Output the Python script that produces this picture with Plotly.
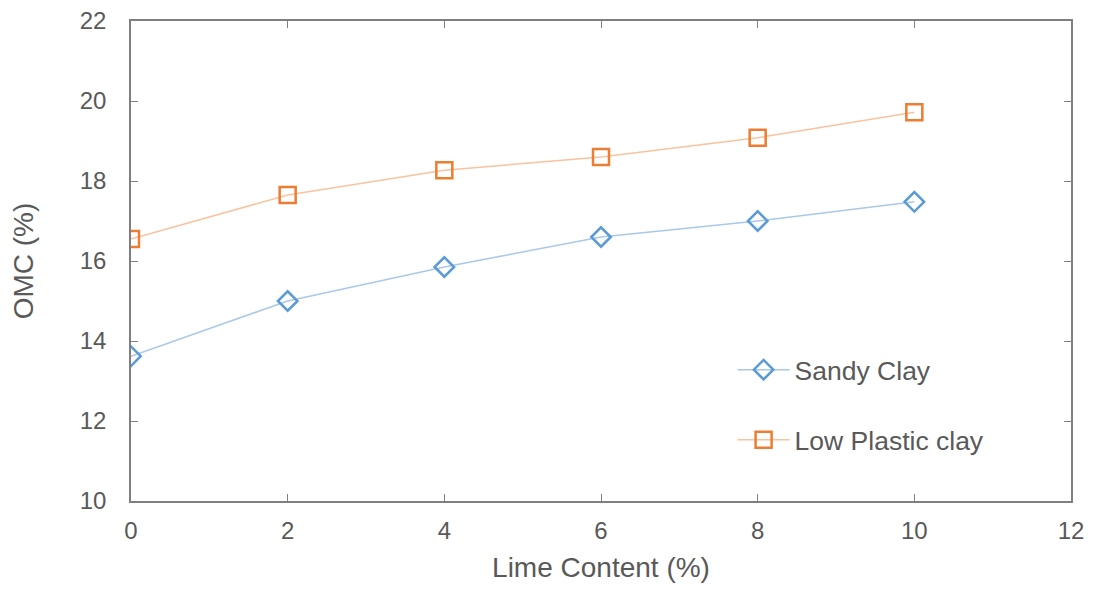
import plotly.graph_objects as go

lime_content = [0, 2, 4, 6, 8, 10]
omc_sandy_clay = [13.62, 15.0, 15.85, 16.6, 17.0, 17.48]
omc_low_plastic = [16.55, 17.65, 18.27, 18.6, 19.08, 19.72]

x_ticks = [0, 2, 4, 6, 8, 10, 12]
y_ticks = [10, 12, 14, 16, 18, 20, 22]

axis_col = "#7f7f7f"
text_col = "#595959"

fig = go.Figure()

fig.add_trace(go.Scatter(
    x=lime_content, y=omc_sandy_clay, name="Sandy Clay",
    mode="lines+markers",
    line=dict(color="#a9c8ea", width=1.5),
    marker=dict(symbol="diamond-open", size=15, color="#5b9bd5",
                line=dict(width=2.5, color="#5b9bd5")),
    legend="legend",
))
fig.add_trace(go.Scatter(
    x=lime_content, y=omc_low_plastic, name="Low Plastic clay",
    mode="lines+markers",
    line=dict(color="#f8c39e", width=1.5),
    marker=dict(symbol="square-open", size=16, color="#ed7d31",
                line=dict(width=2.5, color="#ed7d31")),
    legend="legend2",
))

# le navigateur décale la figure de 8 px (marge du body)
legend_style = dict(font=dict(size=26.5, color=text_col), bgcolor="rgba(0,0,0,0)",
                    xanchor="left", yanchor="middle", itemwidth=52)

fig.update_layout(
    width=1077, height=575,
    margin=dict(l=123, r=14, t=13, b=82),
    showlegend=True,
    plot_bgcolor="white", paper_bgcolor="white",
    font=dict(family="Liberation Sans, Arial, sans-serif", color=text_col, size=24),
    legend=dict(x=0.64, y=0.273, **legend_style),
    legend2=dict(x=0.64, y=0.127, **legend_style),
    xaxis=dict(
        range=[0, 12], tickvals=x_ticks, ticks="inside", ticklen=7,
        tickcolor=axis_col, showline=True, linecolor=axis_col, linewidth=1.5,
        mirror="ticks", showgrid=False, zeroline=False, automargin=False,
        ticklabeloverflow="allow",
        tickfont=dict(size=24, color=text_col), ticklabelstandoff=7,
        title=dict(text="Lime Content (%)", font=dict(size=28, color=text_col), standoff=23),
    ),
    yaxis=dict(
        range=[10, 22], tickvals=y_ticks, ticks="inside", ticklen=7,
        tickcolor=axis_col, showline=True, linecolor=axis_col, linewidth=1.5,
        mirror="ticks", showgrid=False, zeroline=False, automargin=False,
        ticklabeloverflow="allow",
        tickfont=dict(size=24, color=text_col), ticklabelstandoff=18,
        title=dict(text="OMC (%)", font=dict(size=28, color=text_col), standoff=43),
    ),
)

fig.write_html("out.html")
